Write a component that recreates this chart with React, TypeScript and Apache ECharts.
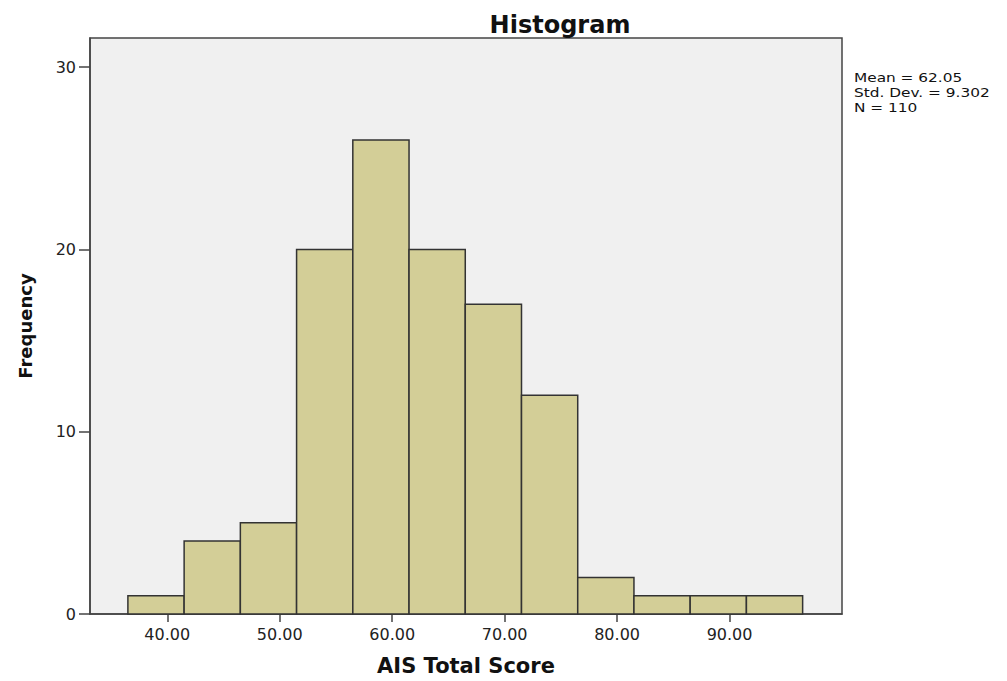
import React, { useEffect, useRef } from "react";
import * as echarts from "echarts";

const binLower = [36.5, 41.5, 46.5, 51.5, 56.5, 61.5, 66.5, 71.5, 76.5, 81.5, 86.5, 91.5];
const binUpper = [41.5, 46.5, 51.5, 56.5, 61.5, 66.5, 71.5, 76.5, 81.5, 86.5, 91.5, 96.5];
const frequencies = [1, 4, 5, 20, 26, 20, 17, 12, 2, 1, 1, 1];
const xTicks = [40, 50, 60, 70, 80, 90];
const yTicks = [0, 10, 20, 30];
const statsLines = ["Mean = 62.05", "Std. Dev. = 9.302", "N = 110"];

const FONT = "'DejaVu Sans', 'Liberation Sans', Arial, sans-serif";

export default function App() {
  const ref = useRef<HTMLDivElement>(null);

  useEffect(() => {
    if (!ref.current) return;
    const chart = echarts.init(ref.current, null, { renderer: "svg" });
    const data = binLower.map((lo, i) => [lo, binUpper[i], frequencies[i]]);

    chart.setOption({
      animation: false,
      backgroundColor: "#ffffff",
      title: {
        text: "Histogram",
        left: 555,
        top: 8,
        textAlign: "center",
        textStyle: { fontFamily: FONT, fontSize: 24, fontWeight: "bold", color: "#111" },
      },
      grid: {
        left: 90,
        right: 165,
        top: 38,
        bottom: 66,
        show: true,
        backgroundColor: "#F0F0F0",
        borderColor: "#444",
        borderWidth: 1.5,
        containLabel: false,
      },
      xAxis: {
        type: "value",
        min: 33.13,
        max: 100,
        name: "AIS Total Score",
        nameLocation: "middle",
        nameGap: 41,
        nameTextStyle: { fontFamily: FONT, fontSize: 21, fontWeight: "bold", color: "#111" },
        axisLine: { show: true, lineStyle: { color: "#444", width: 1.5 } },
        axisTick: { show: true, length: 8, lineStyle: { color: "#444", width: 1.5 }, customValues: xTicks },
        axisLabel: {
          show: true,
          margin: 12,
          fontFamily: FONT,
          fontSize: 16,
          color: "#222",
          customValues: xTicks,
          formatter: (v: number) => v.toFixed(2),
        },
        splitLine: { show: false },
      },
      yAxis: {
        type: "value",
        min: 0,
        max: 31.6,
        name: "Frequency",
        nameLocation: "middle",
        nameGap: 56,
        nameTextStyle: { fontFamily: FONT, fontSize: 18, fontWeight: "bold", color: "#111" },
        axisLine: { show: true, lineStyle: { color: "#444", width: 1.5 } },
        axisTick: { show: true, length: 11, lineStyle: { color: "#444", width: 1.5 }, customValues: yTicks },
        axisLabel: {
          show: true,
          margin: 14,
          fontFamily: FONT,
          fontSize: 16,
          color: "#222",
          customValues: yTicks,
        },
        splitLine: { show: false },
      },
      graphic: statsLines.map((line, i) => ({
        type: "text",
        x: 854,
        y: 77 + i * 15.2,
        scaleX: 1.18,
        style: {
          text: line,
          font: `13px ${FONT}`,
          lineHeight: 13,
          textVerticalAlign: "middle",
          verticalAlign: "middle",
          fill: "#111",
        },
      })),
      series: [
        {
          type: "custom",
          data,
          encode: { x: [0, 1], y: 2 },
          renderItem: (params: any, api: any) => {
            const lo = api.value(0);
            const hi = api.value(1);
            const c = api.value(2);
            const p0 = api.coord([lo, 0]);
            const p1 = api.coord([hi, c]);
            return {
              type: "rect",
              shape: { x: p0[0], y: p1[1], width: p1[0] - p0[0], height: p0[1] - p1[1] },
              style: { fill: "#D3CE97", stroke: "#333", lineWidth: 1.5 },
            };
          },
        },
      ],
    });

    return () => chart.dispose();
  }, []);

  return (
    <div
      ref={ref}
      style={{ position: "fixed", left: 0, top: 0, width: 1007, height: 681 }}
    />
  );
}
